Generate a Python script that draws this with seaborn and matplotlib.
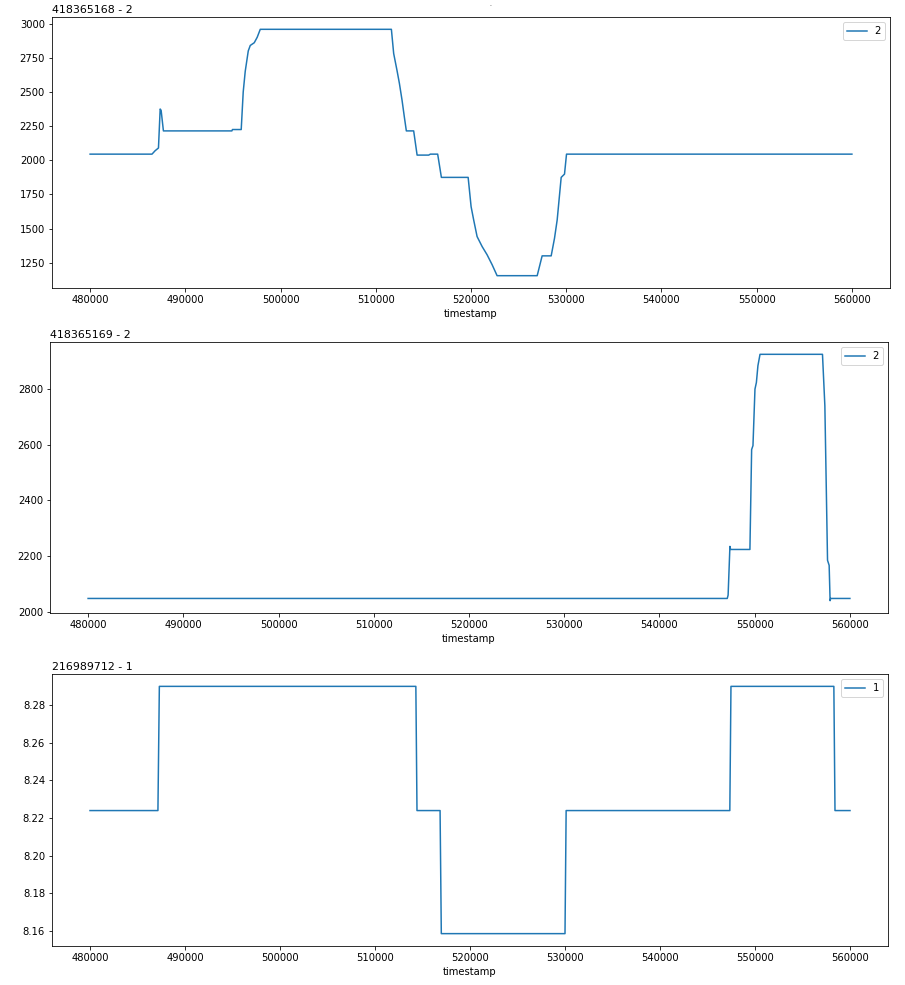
import matplotlib
matplotlib.use("Agg")
import matplotlib.pyplot as plt
import seaborn as sns
import numpy as np

# ---- data ----
t1 = [480000, 486500, 486830, 487180, 487360, 487460, 487700, 494890, 494950,
      495870, 496080, 496290, 496610, 496820, 497240, 497550, 497870, 511640,
      511880, 512230, 512480, 512760, 513000, 513210, 513980, 514340, 515560,
      515730, 516500, 516890, 519700, 520010, 520280, 520640, 521170, 521690,
      522220, 522740, 526950, 527470, 528420, 528770, 529050, 529470, 529820,
      530030, 560000]
v1 = [2045, 2045, 2070, 2090, 2375, 2365, 2215, 2215, 2225,
      2225, 2500, 2650, 2800, 2840, 2860, 2900, 2958, 2958,
      2781, 2657, 2563, 2439, 2317, 2215, 2215, 2038, 2038,
      2045, 2045, 1875, 1875, 1661, 1564, 1442, 1369, 1309,
      1236, 1156, 1156, 1301, 1301, 1430, 1564, 1875, 1899,
      2045, 2045]

t2 = [480000, 547120, 547210, 547400, 547470, 549500, 549680, 549820, 550030,
      550180, 550340, 550560, 557120, 557370, 557650, 557820, 557920, 557980,
      560000]
v2 = [2048, 2048, 2060, 2235, 2224, 2224, 2583, 2597, 2800,
      2824, 2884, 2925, 2925, 2740, 2185, 2167, 2040, 2048,
      2048]

t3 = [480000, 487150, 487300, 514300, 514420, 516850, 516980, 530000, 530120,
      547350, 547470, 558300, 558420, 560000]
v3 = [8.224, 8.224, 8.290, 8.290, 8.224, 8.224, 8.1586, 8.1586, 8.224,
      8.224, 8.290, 8.290, 8.224, 8.224]

titles = ["418365168 - 2", "418365169 - 2", "216989712 - 1"]
labels = ["2", "2", "1"]

# ---- figure ----
W, H = 905, 985
fig = plt.figure(figsize=(W / 72, H / 72), dpi=72)
plt.rcParams['font.size'] = 10

boxes = [(52, 890, 17, 288), (50, 888, 342, 613), (52, 888, 674, 946)]
series = [(t1, v1), (t2, v2), (t3, v3)]

for (l, r, top, bot), (t, v), title, lab in zip(boxes, series, titles, labels):
    ax = fig.add_axes([l / W, 1 - bot / H, (r - l) / W, (bot - top) / H])
    sns.lineplot(x=t, y=v, ax=ax, label=lab, color="#1f77b4", linewidth=1.5)
    ax.set_title(title, loc="left", family="DejaVu Sans", fontsize=11, pad=4)
    ax.set_xlabel("timestamp")
    ax.set_ylabel("")
    ax.set_xticks([480000, 490000, 500000, 510000, 520000, 530000, 540000, 550000, 560000])
    ax.ticklabel_format(axis="x", style="plain", useOffset=False)
    ax.legend(loc="upper right")

fig.text(490 / W, 1 - 4 / H, ".", ha="center", va="center", fontsize=6)

fig.savefig("out.png", dpi=72)
